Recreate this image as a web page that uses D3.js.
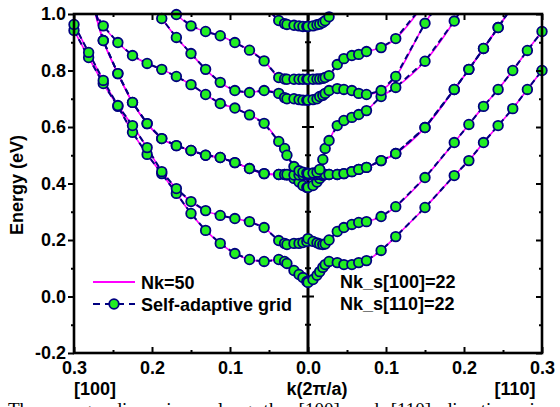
<!DOCTYPE html>
<html>
<head>
<meta charset="utf-8">
<script src="https://cdn.jsdelivr.net/npm/d3@7"></script>
<style>
  body { margin: 0; background: #fff; }
  text { font-family: "Liberation Sans", Arial, sans-serif; font-weight: bold; }
</style>
</head>
<body>
<div id="my_dataviz"></div>
<script>
// k grids of the self-adaptive mesh (units of 2pi/a), index 0 is Gamma
let kLeft = [0, 0.0015, 0.0065, 0.0115, 0.018, 0.027, 0.030, 0.0375, 0.05625, 0.075, 0.09375, 0.1125,
  0.13125, 0.15, 0.16875, 0.1875, 0.20625, 0.225, 0.24375, 0.2625, 0.28125, 0.3]
let kRight = [0, 0.0064, 0.0115, 0.015, 0.019, 0.022, 0.027, 0.0375, 0.046, 0.05625, 0.065, 0.075,
  0.09375, 0.1125, 0.15, 0.1875, 0.20625, 0.225, 0.24375, 0.2625, 0.28125, 0.3]

// band energies (eV) along [100] (left) and [110] (right)
let band1Left = [0.050, 0.053, 0.067, 0.078, 0.092, 0.117, 0.124, 0.131, 0.124, 0.131, 0.152, 0.188, 0.234, 0.294, 0.365, 0.435, 0.503, 0.581, 0.673, 0.754, 0.846, 0.942]
let band1Right = [0.050, 0.060, 0.075, 0.088, 0.103, 0.113, 0.124, 0.120, 0.113, 0.113, 0.120, 0.127, 0.163, 0.212, 0.315, 0.428, 0.481, 0.545, 0.605, 0.665, 0.733, 0.800]
let band2Left = [0.205, 0.195, 0.191, 0.188, 0.188, 0.184, 0.188, 0.198, 0.244, 0.265, 0.276, 0.287, 0.304, 0.336, 0.382, 0.442, 0.527, 0.605, 0.676, 0.765, 0.864, 0.963]
let band2Right = [0.205, 0.195, 0.190, 0.186, 0.184, 0.186, 0.200, 0.230, 0.244, 0.255, 0.262, 0.265, 0.283, 0.318, 0.421, 0.545, 0.609, 0.673, 0.733, 0.800, 0.871, 0.938]
let band3Left = [0.386, 0.386, 0.393, 0.405, 0.418, 0.430, 0.432, 0.432, 0.435, 0.453, 0.474, 0.492, 0.500, 0.517, 0.534, 0.559, 0.612, 0.687, 0.789, 0.906, 1.10]
let band3Right = [0.386, 0.393, 0.405, 0.418, 0.428, 0.432, 0.432, 0.432, 0.435, 0.442, 0.450, 0.457, 0.481, 0.506, 0.598, 0.733, 0.804, 0.878, 0.952, 1.03]
let band4Left = [0.430, 0.430, 0.430, 0.430, 0.430, 0.432, 0.432, 0.432, 0.435, 0.453, 0.474, 0.492, 0.500, 0.517, 0.534, 0.559, 0.612, 0.687, 0.789, 0.906, 1.10]
let band4Right = [0.430, 0.432, 0.432, 0.432, 0.432, 0.432, 0.432, 0.432, 0.435, 0.442, 0.450, 0.457, 0.481, 0.506, 0.598, 0.733, 0.804, 0.878, 0.952, 1.03]
let band5Left = [0.435, 0.437, 0.440, 0.445, 0.460, 0.500, 0.524, 0.549, 0.613, 0.643, 0.667, 0.683, 0.715, 0.750, 0.779, 0.804, 0.825, 0.853, 0.899, 0.958, 1.04]
let band5Right = [0.435, 0.437, 0.440, 0.450, 0.485, 0.524, 0.552, 0.605, 0.623, 0.634, 0.644, 0.658, 0.708, 0.740, 0.833, 0.975, 1.06]
let band6Left = [0.695, 0.695, 0.695, 0.697, 0.700, 0.700, 0.704, 0.719, 0.729, 0.722, 0.729, 0.758, 0.804, 0.860, 0.917, 0.984, 1.05]
let band6Right = [0.695, 0.697, 0.700, 0.708, 0.712, 0.719, 0.729, 0.736, 0.733, 0.729, 0.719, 0.715, 0.729, 0.779, 0.967, 1.12]
let band7Left = [0.769, 0.769, 0.769, 0.769, 0.769, 0.769, 0.770, 0.775, 0.834, 0.872, 0.899, 0.923, 0.938, 0.958, 0.998, 1.05]
let band7Right = [0.769, 0.769, 0.770, 0.770, 0.772, 0.775, 0.782, 0.821, 0.842, 0.853, 0.857, 0.867, 0.881, 0.913, 1.04]
let band8Left = [0.956, 0.956, 0.956, 0.958, 0.960, 0.963, 0.966, 0.977, 1.03]
let band8Right = [0.956, 0.958, 0.962, 0.964, 0.970, 0.976, 0.990, 1.02]

let yTicks = [-0.2, 0.0, 0.2, 0.4, 0.6, 0.8, 1.0]
let xTicks = [-0.3, -0.2, -0.1, 0.0, 0.1, 0.2, 0.3]
let legendLabels = ["Nk=50", "Self-adaptive grid"]
let noteLabels = ["Nk_s[100]=22", "Nk_s[110]=22"]

let bands = [
  [band1Left, band1Right], [band2Left, band2Right], [band3Left, band3Right], [band4Left, band4Right],
  [band5Left, band5Right], [band6Left, band6Right], [band7Left, band7Right], [band8Left, band8Right]
]

// join both directions into one path: [100] on negative side, [110] on positive side
const toPoints = (pair) => {
  let left = pair[0].map((e, i) => ({ k: -kLeft[i], e: e })).reverse()
  let right = pair[1].map((e, i) => ({ k: kRight[i], e: e })).slice(1)
  return left.concat(right)
}
let bandPoints = bands.map(toPoints)

let width = 560
let height = 407
let margin = { top: 14, right: 18, bottom: 54, left: 74 }

let svg = d3.select("#my_dataviz")
  .append("svg")
  .attr("width", width)
  .attr("height", height)

let x = d3.scaleLinear().domain([-0.3, 0.3]).range([margin.left, width - margin.right])
let y = d3.scaleLinear().domain([-0.2, 1.0]).range([height - margin.bottom, margin.top])

svg.append("clipPath").attr("id", "plotclip")
  .append("rect")
  .attr("x", x(-0.3)).attr("y", y(1.0))
  .attr("width", x(0.3) - x(-0.3)).attr("height", y(-0.2) - y(1.0))

let plot = svg.append("g").attr("clip-path", "url(#plotclip)")

// Nk=50 reference curves
let smooth = d3.line().x(d => x(d.k)).y(d => y(d.e)).curve(d3.curveCatmullRom.alpha(0.5))
plot.selectAll(".ref")
  .data(bandPoints)
  .enter()
  .append("path")
  .attr("d", smooth)
  .attr("fill", "none")
  .attr("stroke", "#ff00ff")
  .attr("stroke-width", 1.6)

// self-adaptive grid, dashed
let straight = d3.line().x(d => x(d.k)).y(d => y(d.e))
plot.selectAll(".grid")
  .data(bandPoints)
  .enter()
  .append("path")
  .attr("d", straight)
  .attr("fill", "none")
  .attr("stroke", "#000080")
  .attr("stroke-width", 2)
  .attr("stroke-dasharray", "6,4")

// center line at Gamma
svg.append("line")
  .attr("x1", x(0)).attr("x2", x(0))
  .attr("y1", y(1.0)).attr("y2", y(-0.2))
  .attr("stroke", "black").attr("stroke-width", 3)
d3.range(-2, 11).forEach(i => {
  let v = i / 10
  let len = (i % 2 === 0) ? 6 : 3
  svg.append("line")
    .attr("x1", x(0) - len).attr("x2", x(0) + len)
    .attr("y1", y(v)).attr("y2", y(v))
    .attr("stroke", "black").attr("stroke-width", 2)
})

// markers
let dots = bandPoints.flat().filter(d => d.e <= 1.0)
svg.selectAll(".dot")
  .data(dots)
  .enter()
  .append("circle")
  .attr("cx", d => x(d.k))
  .attr("cy", d => y(d.e))
  .attr("r", 4.8)
  .attr("fill", "#22ee22")
  .attr("stroke", "#000080")
  .attr("stroke-width", 1.8)

// axes
let minorY = d3.range(-2, 11).filter(i => i % 2 !== 0).map(i => i / 10)
let minorX = [-0.25, -0.15, -0.05, 0.05, 0.15, 0.25]

svg.append("g")
  .attr("transform", "translate(" + x(-0.3) + ",0)")
  .call(d3.axisLeft(y).tickValues(yTicks).tickSize(6).tickPadding(2).tickFormat(d => d.toFixed(1)))
  .call(g => g.selectAll("text").style("font-size", "18px").style("font-weight", "bold").attr("fill", "black"))
svg.append("g")
  .attr("transform", "translate(" + x(-0.3) + ",0)")
  .call(d3.axisLeft(y).tickValues(minorY).tickSize(3).tickFormat(""))

svg.append("g")
  .attr("transform", "translate(0," + y(-0.2) + ")")
  .call(d3.axisBottom(x).tickValues(xTicks).tickSize(-6).tickPadding(8).tickFormat(d => Math.abs(d).toFixed(1)))
  .call(g => g.selectAll("text").style("font-size", "18px").style("font-weight", "bold").attr("fill", "black"))
svg.append("g")
  .attr("transform", "translate(0," + y(-0.2) + ")")
  .call(d3.axisBottom(x).tickValues(minorX).tickSize(-3).tickFormat(""))

svg.append("g")
  .attr("transform", "translate(0," + y(1.0) + ")")
  .call(d3.axisTop(x).tickValues(xTicks).tickSize(-6).tickFormat(""))
svg.append("g")
  .attr("transform", "translate(0," + y(1.0) + ")")
  .call(d3.axisTop(x).tickValues(minorX).tickSize(-3).tickFormat(""))

svg.append("g")
  .attr("transform", "translate(" + x(0.3) + ",0)")
  .call(d3.axisRight(y).tickValues(yTicks).tickSize(-6).tickFormat(""))
svg.append("g")
  .attr("transform", "translate(" + x(0.3) + ",0)")
  .call(d3.axisRight(y).tickValues(minorY).tickSize(-3).tickFormat(""))

svg.selectAll(".domain").remove()
svg.selectAll(".tick line").attr("stroke", "black").attr("stroke-width", 2)

// frame
svg.append("rect")
  .attr("x", x(-0.3)).attr("y", y(1.0))
  .attr("width", x(0.3) - x(-0.3)).attr("height", y(-0.2) - y(1.0))
  .attr("fill", "none").attr("stroke", "black").attr("stroke-width", 2.6)

// axis titles
svg.append("text")
  .attr("transform", "translate(23," + 185 + ") rotate(-90)")
  .attr("text-anchor", "middle")
  .style("font-size", "18px")
  .text("Energy (eV)")
svg.append("text").attr("x", 317).attr("y", 395).attr("text-anchor", "middle").style("font-size", "18px").text("k(2\u03c0/a)")
svg.append("text").attr("x", 95).attr("y", 395).attr("text-anchor", "middle").style("font-size", "18px").text("[100]")
svg.append("text").attr("x", 515).attr("y", 395).attr("text-anchor", "middle").style("font-size", "18px").text("[110]")

// legend
let legend = svg.append("g")
legend.append("line")
  .attr("x1", 93).attr("x2", 135).attr("y1", 282).attr("y2", 282)
  .attr("stroke", "#ff00ff").attr("stroke-width", 2)
legend.append("line")
  .attr("x1", 93).attr("x2", 135).attr("y1", 304).attr("y2", 304)
  .attr("stroke", "#000080").attr("stroke-width", 2).attr("stroke-dasharray", "7,5")
legend.append("circle")
  .attr("cx", 114).attr("cy", 304).attr("r", 4.8)
  .attr("fill", "#22ee22").attr("stroke", "#000080").attr("stroke-width", 1.8)
legend.selectAll(".lab")
  .data(legendLabels)
  .enter()
  .append("text")
  .attr("x", 141)
  .attr("y", (d, i) => 289 + i * 22)
  .style("font-size", "18px")
  .text(d => d)

svg.selectAll(".note")
  .data(noteLabels)
  .enter()
  .append("text")
  .attr("x", 340)
  .attr("y", (d, i) => 288 + i * 22)
  .style("font-size", "18px")
  .text(d => d)

// caption, cut by the bottom edge
svg.append("text")
  .attr("x", 8).attr("y", 416)
  .style("font-family", "'Liberation Serif', 'Times New Roman', serif")
  .style("font-weight", "normal")
  .style("font-size", "19px")
  .style("word-spacing", "7px")
  .text("The energy dispersions along the [100] and [110] directions in")
</script>
</body>
</html>
